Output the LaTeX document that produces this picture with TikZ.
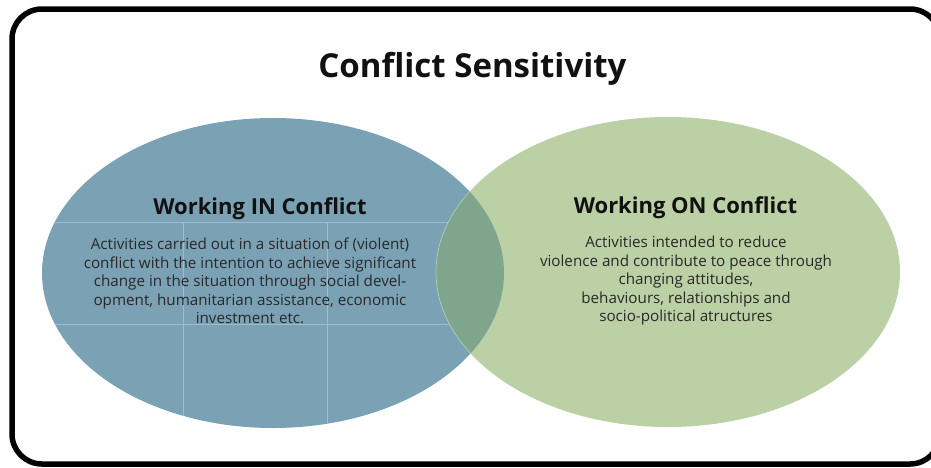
\documentclass[tikz,border=0pt]{standalone}
\usepackage{fontspec}
\setmainfont{Open Sans}
\definecolor{blueC}{RGB}{123,161,180}
\definecolor{greenC}{RGB}{188,208,166}
\definecolor{overC}{RGB}{127,166,140}
\definecolor{gridC}{RGB}{158,189,204}
\definecolor{inkC}{RGB}{17,17,17}
\tikzset{
  titletext/.style={font=\fontsize{33}{40}\selectfont\bfseries, text=inkC, inner sep=0pt},
  headtext/.style={font=\fontsize{22}{26}\selectfont\bfseries, text=inkC, inner sep=0pt},
  bodytext/.style={font=\fontsize{15.2}{18.5}\selectfont, text=inkC!90, align=center, inner sep=0pt},
  gridline/.style={draw=gridC, line width=0.8pt},
  frame/.style={draw=black, line width=5.5pt, rounded corners=30pt}
}
\begin{document}
\begin{tikzpicture}[x=1pt,y=-1pt]
\useasboundingbox (0,0) rectangle (931,467);
% left ellipse
\fill[blueC] (273,273) ellipse [x radius=231, y radius=155];
\begin{scope}
  \clip (273,273) ellipse [x radius=231, y radius=155];
  \path[gridline] (0,222) -- (931,222);
  \path[gridline] (0,324) -- (931,324);
  \path[gridline] (183,222) -- (183,467);
  \path[gridline] (327,222) -- (327,467);
\end{scope}
% right ellipse
\fill[greenC] (668,272) ellipse [x radius=232, y radius=155];
% overlap
\begin{scope}
  \clip (273,273) ellipse [x radius=231, y radius=155];
  \fill[overC] (668,272) ellipse [x radius=232, y radius=155];
  \draw[white, opacity=0.35, line width=0.7pt] (668,272) ellipse [x radius=232, y radius=155];
\end{scope}
% frame
\path[frame] (12,9) rectangle (940,464);
% texts
\node[titletext, anchor=base] (title) at (472.5,77) {Conflict Sensitivity};
\node[headtext, anchor=base] (inh) at (260,214) {Working IN Conflict};
\node[headtext, anchor=base] (onh) at (685.5,213) {Working ON Conflict};
\node[bodytext] (inb) at (250,281) {Activities carried out in a situation of (violent)\\
conflict with the intention to achieve significant\\
change in the situation through social devel-\\
opment, humanitarian assistance, economic\\
investment etc.};
\node[bodytext] (onb) at (686,281) {Activities intended to reduce\\
violence and contribute to peace through\\
changing attitudes,\\
behaviours, relationships and\\
socio-political atructures};
\end{tikzpicture}
\end{document}
